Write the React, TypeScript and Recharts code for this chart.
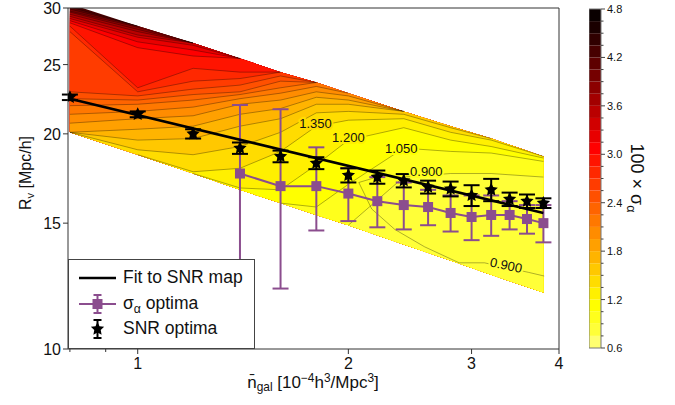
import React from "react"
import { ComposedChart, Area, Line, XAxis, YAxis, ErrorBar, ReferenceArea, ReferenceLine } from "recharts"

const FONT = '"Liberation Sans", Arial, Helvetica, sans-serif'

// SNR optima (black stars)
const snrN = [0.8, 1.0, 1.2, 1.4, 1.6, 1.8, 2.0, 2.2, 2.4, 2.6, 2.8, 3.0, 3.2, 3.4, 3.6, 3.8]
const snrR = [22.5, 21.3, 20.0, 19.1, 18.6, 18.2, 17.5, 17.4, 17.2, 16.85, 16.75, 16.4, 16.7, 16.2, 16.1, 16.0]
const snrErr = [0.2, 0.2, 0.3, 0.35, 0.35, 0.35, 0.4, 0.37, 0.37, 0.35, 0.4, 0.55, 0.6, 0.35, 0.35, 0.25]

// sigma_alpha optima (purple squares)
const sigN = [1.4, 1.6, 1.8, 2.0, 2.2, 2.4, 2.6, 2.8, 3.0, 3.2, 3.4, 3.6, 3.8]
const sigR = [17.6, 16.9, 16.9, 16.5, 16.1, 15.9, 15.8, 15.5, 15.3, 15.4, 15.4, 15.2, 15.0]
const sigErr = [4.35, 4.75, 2.25, 1.4, 1.3, 1.2, 0.9, 0.9, 1.1, 1.0, 0.7, 0.7, 0.9]

// fit to SNR map (straight in log-log)
const fitN = [0.8, 3.8]
const fitR = [22.4, 15.5]

// sigma map: columns, lower/upper edge of the sampled band
const fieldN = [0.8, 1.0, 1.2, 1.4, 1.6, 1.8, 2.0, 2.4, 2.8, 3.2, 3.8]
const fieldBottom = [20.1, 18.7, 17.6, 16.7, 16.0, 15.4, 14.9, 14.0, 13.3, 12.7, 12.0]
const fieldTop = [30.4, 28.3, 26.8, 25.5, 24.4, 23.6, 22.8, 21.5, 20.5, 19.7, 18.6]

// contour levels and where they cross each column (0 = below the band, 99 = above it)
const levels = [0.9, 1.05, 1.2, 1.35, 1.5, 1.65, 1.8, 1.95, 2.1, 2.25, 2.4, 2.55, 2.7, 2.85, 3.0, 3.15, 3.3, 3.45, 3.6, 3.75, 3.9, 4.05, 4.2, 4.35]
const contourR = [
  [0, 0, 0, 0, 0, 0, 0, 17.4, 17.6, 17.6, 17.4],
  [0, 0, 0, 0, 0, 15.8, 17.0, 19.1, 18.9, 18.8, 18.3],
  [0, 0, 0, 16.8, 16.7, 18.1, 19.6, 20.4, 19.6, 19.2, 18.5],
  [0, 0, 17.7, 17.9, 18.9, 20.5, 20.9, 21.0, 20.1, 19.6, 99],
  [0, 19.0, 18.7, 19.2, 20.1, 21.4, 21.5, 21.3, 20.4, 99, 99],
  [0, 19.6, 19.7, 20.5, 21.0, 22.0, 22.0, 99, 99, 99, 99],
  [0, 20.3, 20.5, 21.3, 21.7, 22.5, 22.3, 99, 99, 99, 99],
  [20.7, 21.0, 21.2, 22.0, 22.3, 22.9, 22.6, 99, 99, 99, 99],
  [21.3, 21.5, 21.8, 22.4, 22.8, 23.3, 99, 99, 99, 99, 99],
  [21.9, 22.0, 22.3, 22.7, 23.2, 99, 99, 99, 99, 99, 99],
  [22.4, 22.3, 22.7, 22.9, 23.7, 99, 99, 99, 99, 99, 99],
  [22.9, 22.6, 23.1, 23.4, 24.1, 99, 99, 99, 99, 99, 99],
  [27.8, 22.9, 23.7, 23.9, 99, 99, 99, 99, 99, 99, 99],
  [28.3, 23.2, 24.7, 24.4, 99, 99, 99, 99, 99, 99, 99],
  [28.6, 26.4, 25.7, 99, 99, 99, 99, 99, 99, 99, 99],
  [28.8, 26.9, 26.2, 99, 99, 99, 99, 99, 99, 99, 99],
  [29.0, 27.3, 26.6, 99, 99, 99, 99, 99, 99, 99, 99],
  [29.2, 27.5, 99, 99, 99, 99, 99, 99, 99, 99, 99],
  [29.4, 27.8, 99, 99, 99, 99, 99, 99, 99, 99, 99],
  [29.6, 28.0, 99, 99, 99, 99, 99, 99, 99, 99, 99],
  [29.7, 28.2, 99, 99, 99, 99, 99, 99, 99, 99, 99],
  [29.9, 99, 99, 99, 99, 99, 99, 99, 99, 99, 99],
  [30.1, 99, 99, 99, 99, 99, 99, 99, 99, 99, 99],
  [99, 99, 99, 99, 99, 99, 99, 99, 99, 99, 99],
]

// lower 0.900 contour (loop at the right)
const loopN = [2.24, 2.07, 2.16, 2.33, 2.57, 2.88, 3.13, 3.62, 3.81]
const loopR = [17.5, 17.1, 15.7, 14.7, 13.9, 13.2, 13.2, 12.8, 12.65]

// inline contour labels
const labelN = [1.795, 2.0, 2.38, 2.585, 3.36]
const labelR = [20.65, 19.75, 19.1, 17.7, 13.1]
const labelText = ["1.350", "1.200", "1.050", "0.900", "0.900"]
const labelAngle = [0, 0, 0, 0, 12]
const labelHalo = ["#ffdc00", "#fff000", "#ffff00", "#ffff1c", "#ffff38"]

// colour bar
const cbBounds = [0.6, 0.75, 0.9, 1.05, 1.2, 1.35, 1.5, 1.65, 1.8, 1.95, 2.1, 2.25, 2.4, 2.55, 2.7, 2.85, 3.0, 3.15, 3.3, 3.45, 3.6, 3.75, 3.9, 4.05, 4.2, 4.35, 4.5, 4.65, 4.8]
const cbLabels = [0.6, 1.2, 1.8, 2.4, 3.0, 3.6, 4.2, 4.8]
const bandColors = [
  "#ffff70", "#ffff38", "#ffff1c", "#ffff00", "#fff000", "#ffdc00", "#ffc800",
  "#ffb400", "#ffa000", "#ff8c00", "#ff7800", "#ff6400", "#ff5000", "#ff3c00",
  "#ff2800", "#ff1400", "#ff0000", "#e80000", "#d10000", "#ba0000", "#a30000",
  "#8c0000", "#750000", "#5e0000", "#470000", "#300000", "#1a0000", "#0a0000",
]

const xTicks = [0.8, 0.9, 1, 2, 3, 4]
const xMajor = [1, 2, 3, 4]
const yTicks = [10, 15, 20, 25, 30]

const PURPLE = "#8b4d8e"

const snrRows = snrN.map((n, i) => ({ n, r: snrR[i], err: snrErr[i] }))
const sigRows = sigN.map((n, i) => ({ n, r: sigR[i], err: sigErr[i] }))
const fitRows = fitN.map((n, i) => ({ n, r: fitR[i] }))
const loopRows = loopN.map((n, i) => ({ n, r: loopR[i] }))
const labelRows = labelN.map((n, i) => ({ n, r: labelR[i], text: labelText[i], angle: labelAngle[i], halo: labelHalo[i] }))

const inside = (k: number, j: number) =>
  j >= 0 && j < fieldN.length && contourR[k][j] > fieldBottom[j] && contourR[k][j] < fieldTop[j]

const fieldRows = fieldN.map((n, j) => {
  const row: any = { n, bot: fieldBottom[j], top: fieldTop[j] }
  levels.forEach((_, k) => {
    const v = Math.min(Math.max(contourR[k][j], fieldBottom[j]), fieldTop[j])
    row["f" + k] = v
    row["c" + k] = inside(k, j) || inside(k, j - 1) || inside(k, j + 1) ? v : null
  })
  return row
})

const bandIndex = (lo: number) => Math.round((lo - 0.6) / 0.15)

const starPath = (cx: number, cy: number, ro = 7, ri = 3.4) => {
  let d = ""
  for (let i = 0; i < 10; i++) {
    const r = i % 2 === 0 ? ro : ri
    const a = -Math.PI / 2 + (i * Math.PI) / 5
    d += (i === 0 ? "M" : "L") + (cx + r * Math.cos(a)).toFixed(2) + "," + (cy + r * Math.sin(a)).toFixed(2)
  }
  return d + "Z"
}

function XTick(props: any) {
  const { x, y, payload } = props
  const major = xMajor.includes(payload.value)
  return (
    <g>
      <line x1={x} x2={x} y1={y} y2={y + (major ? 5 : 3)} stroke="#333" />
      {major && (
        <text x={x} y={y + 20} textAnchor="middle" fontSize={16} fill="#111" fontFamily={FONT}>
          {payload.value}
        </text>
      )}
    </g>
  )
}

function YTick(props: any) {
  const { x, y, payload } = props
  return (
    <g>
      <line x1={x - 5} x2={x} y1={y} y2={y} stroke="#333" />
      <text x={x - 7} y={y + 6} textAnchor="end" fontSize={16} fill="#111" fontFamily={FONT}>
        {payload.value}
      </text>
    </g>
  )
}

function CbTick(props: any) {
  const { x, y, payload } = props
  const labelled = cbLabels.some((v) => Math.abs(v - payload.value) < 1e-6)
  return (
    <g>
      <line x1={x} x2={x + (labelled ? 4 : 2.5)} y1={y} y2={y} stroke="#444" />
      {labelled && (
        <text x={x + 6} y={y + 4} fontSize={11} fill="#111" fontFamily={FONT}>
          {payload.value.toFixed(1)}
        </text>
      )}
    </g>
  )
}

const sub = { fontSize: "0.7em", verticalAlign: "-0.3em", lineHeight: 0 } as const
const sup = { fontSize: "0.7em", verticalAlign: "0.5em", lineHeight: 0 } as const

export default function App() {
  const descending = levels.map((l, k) => ({ l, k })).reverse()
  return (
    <div style={{ position: "absolute", left: 0, top: 0, width: 675, height: 405, background: "#fff", fontFamily: FONT, color: "#111" }}>
      <ComposedChart width={675} height={405} data={fieldRows} margin={{ top: 8, right: 116, bottom: 16, left: 0 }}>
        <XAxis
          dataKey="n"
          type="number"
          scale="log"
          domain={[0.795, 4]}
          allowDataOverflow
          ticks={xTicks}
          interval={0}
          tick={XTick}
          tickSize={0}
          tickMargin={0}
          axisLine={{ stroke: "#333" }}
          height={40}
        />
        <YAxis
          type="number"
          scale="log"
          domain={[10, 30]}
          allowDataOverflow
          ticks={yTicks}
          interval={0}
          tick={YTick}
          tickSize={0}
          tickMargin={0}
          axisLine={{ stroke: "#333" }}
          width={68}
        />
        {descending.map(({ l, k }) => (
          <Area
            key={"a" + k}
            type="linear"
            dataKey={(row: any) => [row.bot, row["f" + k]]}
            stroke="none"
            fill={bandColors[bandIndex(l - 0.15)]}
            fillOpacity={1}
            isAnimationActive={false}
            activeDot={false}
          />
        ))}
        {levels.map((l, k) => (
          <Line
            key={"c" + k}
            type="linear"
            dataKey={(row: any) => row["c" + k]}
            stroke="#000"
            strokeOpacity={0.45}
            strokeWidth={0.7}
            dot={false}
            activeDot={false}
            isAnimationActive={false}
          />
        ))}
        <Line data={loopRows} dataKey="r" type="linear" stroke="#000" strokeOpacity={0.45} strokeWidth={0.7} dot={false} activeDot={false} isAnimationActive={false} />
        <Line
          data={labelRows}
          dataKey="r"
          stroke="none"
          activeDot={false}
          isAnimationActive={false}
          dot={(p: any) => (
            <text
              key={"lbl" + p.index}
              x={p.cx}
              y={p.cy}
              dy={4.5}
              textAnchor="middle"
              fontSize={13}
              fontFamily={FONT}
              fill="#111"
              stroke={p.payload.halo}
              strokeWidth={4}
              paintOrder="stroke"
              transform={`rotate(${p.payload.angle} ${p.cx} ${p.cy})`}
            >
              {p.payload.text}
            </text>
          )}
        />
        <Line
          data={sigRows}
          dataKey="r"
          type="linear"
          stroke={PURPLE}
          strokeWidth={2}
          activeDot={false}
          isAnimationActive={false}
          dot={(p: any) => <rect key={"sq" + p.index} x={p.cx - 5} y={p.cy - 5} width={10} height={10} fill={PURPLE} />}
        >
          <ErrorBar dataKey="err" direction="y" width={8} stroke={PURPLE} strokeWidth={2} />
        </Line>
        <Line data={fitRows} dataKey="r" type="linear" stroke="#000" strokeWidth={2.5} dot={false} activeDot={false} isAnimationActive={false} />
        <Line
          data={snrRows}
          dataKey="r"
          stroke="none"
          activeDot={false}
          isAnimationActive={false}
          dot={(p: any) => <path key={"st" + p.index} d={starPath(p.cx, p.cy)} fill="#000" />}
        >
          <ErrorBar dataKey="err" direction="y" width={8} stroke="#000" strokeWidth={2} />
        </Line>
        <ReferenceLine y={30} stroke="#333" ifOverflow="visible" />
        <ReferenceLine x={4} stroke="#333" ifOverflow="visible" />
      </ComposedChart>

      {/* legend */}
      <div style={{ position: "absolute", left: 68, top: 259, width: 187, height: 90, boxSizing: "border-box", border: "1px solid #444", background: "#fff", fontSize: 17.5 }}>
        <svg width={40} height={90} style={{ position: "absolute", left: 9, top: 0 }}>
          <line x1={1} x2={38} y1={18} y2={18} stroke="#000" strokeWidth={2.5} />
          <line x1={1} x2={38} y1={44} y2={44} stroke={PURPLE} strokeWidth={2} />
          <line x1={19.5} x2={19.5} y1={35} y2={53} stroke={PURPLE} strokeWidth={2} />
          <line x1={15.5} x2={23.5} y1={35} y2={35} stroke={PURPLE} strokeWidth={2} />
          <line x1={15.5} x2={23.5} y1={53} y2={53} stroke={PURPLE} strokeWidth={2} />
          <rect x={14.5} y={39} width={10} height={10} fill={PURPLE} />
          <line x1={19.5} x2={19.5} y1={60} y2={78} stroke="#000" strokeWidth={2} />
          <line x1={15.5} x2={23.5} y1={60} y2={60} stroke="#000" strokeWidth={2} />
          <line x1={15.5} x2={23.5} y1={78} y2={78} stroke="#000" strokeWidth={2} />
          <path d={starPath(19.5, 69)} fill="#000" />
        </svg>
        <div style={{ position: "absolute", left: 54, top: 18, transform: "translateY(-50%)", whiteSpace: "nowrap", lineHeight: 1 }}>Fit to SNR map</div>
        <div style={{ position: "absolute", left: 54, top: 44, transform: "translateY(-50%)", whiteSpace: "nowrap", lineHeight: 1 }}>
          σ<span style={sub}>α</span> optima
        </div>
        <div style={{ position: "absolute", left: 54, top: 69, transform: "translateY(-50%)", whiteSpace: "nowrap", lineHeight: 1 }}>SNR optima</div>
      </div>

      {/* axis titles */}
      <div style={{ position: "absolute", left: 26, top: 173, transform: "translate(-50%, -50%) rotate(-90deg)", whiteSpace: "nowrap", fontSize: 16, lineHeight: 1 }}>
        R<span style={sub}>v</span> [Mpc/h]
      </div>
      <div style={{ position: "absolute", left: 313, top: 382, transform: "translate(-50%, -50%)", whiteSpace: "nowrap", fontSize: 17, lineHeight: 1 }}>
        n&#772;<span style={sub}>gal</span> [10<span style={sup}>−4</span>h<span style={sup}>3</span>/Mpc<span style={sup}>3</span>]
      </div>

      {/* colour bar */}
      <div style={{ position: "absolute", left: 589, top: 0 }}>
        <ComposedChart width={60} height={405} data={[{ x: 0 }, { x: 1 }]} margin={{ top: 9, right: 8, bottom: 57, left: 0 }}>
          <XAxis dataKey="x" type="number" domain={[0, 1]} hide />
          <YAxis
            orientation="right"
            type="number"
            domain={[0.6, 4.8]}
            allowDataOverflow
            ticks={cbBounds}
            interval={0}
            tick={CbTick}
            tickSize={0}
            tickMargin={0}
            axisLine={false}
            width={40}
          />
          {bandColors.map((c, i) => (
            <ReferenceArea key={"cb" + i} y1={cbBounds[i]} y2={cbBounds[i + 1]} fill={c} fillOpacity={1} stroke="none" ifOverflow="visible" />
          ))}
          <ReferenceArea y1={0.6} y2={4.8} fill="none" stroke="#777" ifOverflow="visible" />
        </ComposedChart>
      </div>
      <div style={{ position: "absolute", left: 637, top: 178, transform: "translate(-50%, -50%) rotate(90deg)", whiteSpace: "nowrap", fontSize: 18, lineHeight: 1 }}>
        100 × σ<span style={sub}>α</span>
      </div>
    </div>
  )
}
